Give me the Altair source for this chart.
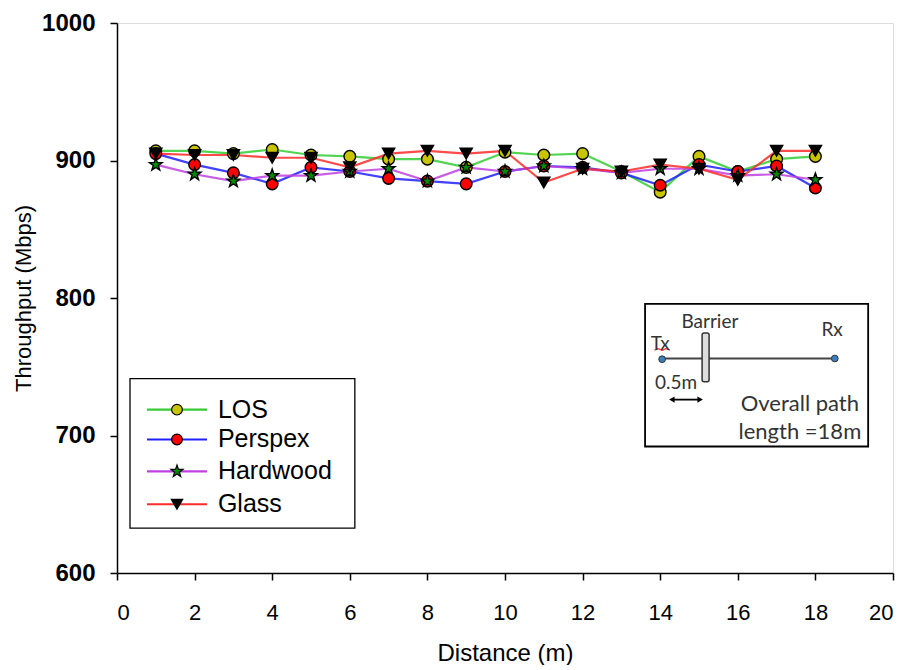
import altair as alt
import pandas as pd

# ---------------- data ----------------
distance = list(range(1, 19))
los      = [907, 907, 905, 908, 904, 903, 901, 901, 895, 906, 904, 905, 892, 877, 903, 892, 901, 903]
perspex  = [905, 897, 891, 883, 895, 892, 887, 885, 883, 892, 896, 895, 891, 882, 897, 892, 896, 880]
hardwood = [897, 890, 885, 889, 889, 892, 894, 885, 895, 892, 896, 894, 891, 894, 894, 889, 890, 886]
glass    = [905, 904, 904, 902, 902, 895, 905, 907, 905, 907, 884, 894, 892, 897, 894, 886, 907, 907]

series_names  = ["LOS", "Perspex", "Hardwood", "Glass"]
series_values = [los, perspex, hardwood, glass]
line_colors   = ["#33cc33", "#2020ff", "#c040e0", "#ff2a2a"]
marker_fills  = ["#c8c400", "#ff0000", "#008a00", "#000000"]
marker_shapes = ["circle", "circle", "star", "triangle-down"]
marker_sizes  = [135, 135, 180, 150]

x_ticks = list(range(0, 21, 2))
y_ticks = [600, 700, 800, 900, 1000]

SANS = "Liberation Sans, Arial, sans-serif"
INSET_FONT = "Lato, Open Sans, sans-serif"
STAR = "M0,-1L0.235,-0.324L0.951,-0.309L0.38,0.124L0.588,0.809L0,0.4L-0.588,0.809L-0.38,0.124L-0.951,-0.309L-0.235,-0.324Z"

rows = []
for name, vals in zip(series_names, series_values):
    for d, v in zip(distance, vals):
        rows.append({"series": name, "distance": d, "throughput": v})
df = pd.DataFrame(rows)

xscale = alt.Scale(domain=[0, 20], nice=False, zero=False)
yscale = alt.Scale(domain=[600, 1000], nice=False, zero=False)

xaxis = alt.Axis(values=x_ticks, title="Distance (m)", grid=False, tickSize=7, format="d",
                 tickColor="black", domainColor="black", domainWidth=1.5, tickWidth=1.5,
                 labelFont=SANS, labelFontSize=22, labelColor="black", labelPadding=22,
                 titleFont=SANS, titleFontSize=24, titleFontWeight="normal",
                 titleColor="black", titlePadding=18)
yaxis = alt.Axis(values=y_ticks, title="Throughput (Mbps)", grid=False, tickSize=7, format="d",
                 tickColor="black", domainColor="black", domainWidth=1.5, tickWidth=1.5,
                 labelFont=SANS, labelFontSize=24, labelFontWeight="bold", labelColor="black",
                 labelPadding=15, titleFont=SANS, titleFontSize=22,
                 titleFontWeight="normal", titleColor="black", titlePadding=6)


def enc(chart, x="x", y="y", **kw):
    return chart.encode(x=alt.X(f"{x}:Q", scale=xscale, axis=xaxis),
                        y=alt.Y(f"{y}:Q", scale=yscale, axis=yaxis), **kw)


layers = []
for i, name in enumerate(series_names):
    sub = df[df.series == name]
    layers.append(enc(alt.Chart(sub).mark_line(color=line_colors[i], strokeWidth=2.2, opacity=0.85),
                      "distance", "throughput"))
for i, name in enumerate(series_names):
    sub = df[df.series == name]
    shape = STAR if marker_shapes[i] == "star" else marker_shapes[i]
    layers.append(enc(alt.Chart(sub).mark_point(shape=shape, filled=True, fill=marker_fills[i],
                                                stroke="black", strokeWidth=1.4, opacity=1,
                                                size=marker_sizes[i]),
                      "distance", "throughput"))

# ---------------- legend (drawn in data units) ----------------
leg_box = pd.DataFrame({"x": [0.335], "x2": [6.13], "y": [741.3], "y2": [632.6]})
layers.append(enc(alt.Chart(leg_box).mark_rect(fill="white", stroke="black", strokeWidth=1.3),
                  x2="x2", y2="y2"))
leg_y = [718.8, 697.1, 673.9, 650.0]
for i, name in enumerate(series_names):
    seg = pd.DataFrame({"x": [0.773], "x2": [2.32], "y": [leg_y[i]]})
    layers.append(enc(alt.Chart(seg).mark_rule(color=line_colors[i], strokeWidth=2.2), x2="x2"))
    pt = pd.DataFrame({"x": [1.546], "y": [leg_y[i]]})
    shape = STAR if marker_shapes[i] == "star" else marker_shapes[i]
    layers.append(enc(alt.Chart(pt).mark_point(shape=shape, filled=True, fill=marker_fills[i],
                                               stroke="black", strokeWidth=1.2, opacity=1,
                                               size=marker_sizes[i] - 20)))
leg_text = pd.DataFrame({"x": [2.6] * 4, "y": leg_y, "t": series_names})
layers.append(enc(alt.Chart(leg_text).mark_text(align="left", baseline="middle", font=SANS,
                                                fontSize=25, color="black"), text="t:N"))

# ---------------- inset diagram ----------------
ins_box = pd.DataFrame({"x": [13.61], "x2": [19.36], "y": [795.7], "y2": [692.0]})
layers.append(enc(alt.Chart(ins_box).mark_rect(fill="white", stroke="black", strokeWidth=1.8),
                  x2="x2", y2="y2"))
path_line = pd.DataFrame({"x": [14.05], "x2": [18.5], "y": [756.0]})
layers.append(enc(alt.Chart(path_line).mark_rule(color="#444444", strokeWidth=2), x2="x2"))
barrier = pd.DataFrame({"x": [15.08], "x2": [15.26], "y": [774.6], "y2": [739.1]})
layers.append(enc(alt.Chart(barrier).mark_rect(fill="#dddddd", stroke="#333333", strokeWidth=1.5,
                                               cornerRadius=2), x2="x2", y2="y2"))
nodes = pd.DataFrame({"x": [14.05, 18.5], "y": [755.5, 756.0]})
layers.append(enc(alt.Chart(nodes).mark_point(shape="circle", filled=True, fill="#3a7fc0",
                                              stroke="#333333", strokeWidth=1, size=45, opacity=1)))
squiggle = pd.DataFrame({"x": [13.85, 13.95, 14.05, 14.15, 14.25],
                         "y": [762.0, 763.2, 762.0, 763.2, 762.0]})
layers.append(enc(alt.Chart(squiggle).mark_line(color="#ff3030", strokeWidth=1.3, interpolate="monotone")))
arrow = pd.DataFrame({"x": [14.32], "x2": [15.0], "y": [726.1]})
layers.append(enc(alt.Chart(arrow).mark_rule(color="black", strokeWidth=1.8), x2="x2"))
for hx, hs in [(14.3, "triangle-left"), (15.03, "triangle-right")]:
    layers.append(enc(alt.Chart(pd.DataFrame({"x": [hx], "y": [726.1]}))
                      .mark_point(shape=hs, filled=True, fill="black", size=40, opacity=1)))
ins_small = pd.DataFrame({"x": [15.28, 14.0, 18.43, 14.41],
                          "y": [782.6, 766.7, 776.8, 738.4],
                          "t": ["Barrier", "Tx", "Rx", "0.5m"]})
layers.append(enc(alt.Chart(ins_small).mark_text(align="center", baseline="middle", font=INSET_FONT,
                                                 fontSize=19, color="#333333"), text="t:N"))
ins_big = pd.DataFrame({"x": [17.6, 17.6], "y": [723.2, 702.9],
                        "t": ["Overall path", "length =18m"]})
layers.append(enc(alt.Chart(ins_big).mark_text(align="center", baseline="middle", font=INSET_FONT,
                                               fontSize=22, color="#333333"), text="t:N"))

chart = alt.layer(*layers).properties(
    width=776, height=550,
    padding={"left": 4, "top": 3, "right": 5, "bottom": 0},
).configure_view(stroke="black", strokeWidth=1.5).configure(background="white")

chart.save("out.html", embed_options={"renderer": "svg", "actions": False})
